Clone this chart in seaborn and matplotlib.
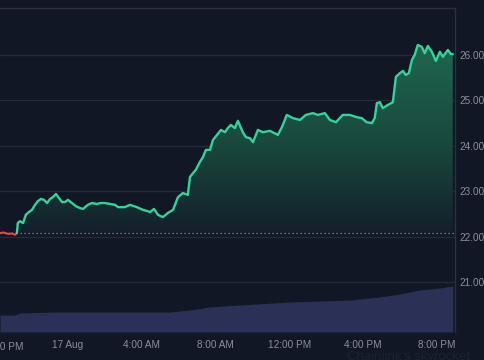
import matplotlib.pyplot as plt
import matplotlib.dates as mdates
import numpy as np
import pandas as pd
import seaborn as sns
from matplotlib.colors import LinearSegmentedColormap

# price trace, minutes after 16 Aug 20:00
start = pd.Timestamp("2024-08-16 20:00")
price_minutes = [19, 32, 45, 58, 68, 74, 77, 84, 94, 103, 113, 123, 133, 142, 152, 162, 172, 182,
                 191, 201, 211, 221, 230, 240, 253, 266, 279, 289, 305, 318, 334, 347, 360, 377,
                 393, 403, 425, 442, 464, 484, 500, 507, 520, 533, 549, 565, 582, 598, 614, 630,
                 637, 647, 656, 669, 679, 689, 702, 712, 725, 738, 751, 760, 770, 783, 793, 809,
                 819, 832, 842, 858, 874, 897, 923, 936, 952, 972, 995, 1014, 1037, 1053, 1076,
                 1092, 1112, 1134, 1157, 1180, 1196, 1212, 1229, 1238, 1245, 1255, 1264, 1281,
                 1297, 1307, 1320, 1330, 1339, 1349, 1359, 1368, 1378, 1391, 1401, 1411, 1424,
                 1437, 1450, 1460, 1476, 1486, 1492]
prices = [22.08, 22.09, 22.06, 22.07, 22.04, 22.08, 22.30, 22.34, 22.30, 22.48, 22.54, 22.59,
          22.70, 22.78, 22.83, 22.81, 22.74, 22.83, 22.87, 22.94, 22.85, 22.76, 22.76, 22.81,
          22.74, 22.67, 22.63, 22.61, 22.70, 22.74, 22.72, 22.74, 22.74, 22.72, 22.70, 22.65,
          22.65, 22.70, 22.65, 22.59, 22.56, 22.54, 22.61, 22.48, 22.43, 22.52, 22.59, 22.87,
          22.96, 22.92, 23.31, 23.40, 23.47, 23.64, 23.75, 23.91, 23.91, 24.13, 24.24, 24.35,
          24.30, 24.39, 24.46, 24.39, 24.55, 24.30, 24.19, 24.17, 24.08, 24.35, 24.30, 24.33,
          24.24, 24.41, 24.68, 24.61, 24.57, 24.68, 24.72, 24.68, 24.72, 24.57, 24.52, 24.68,
          24.68, 24.63, 24.61, 24.52, 24.50, 24.61, 24.94, 24.96, 24.83, 24.90, 24.96, 25.52,
          25.60, 25.65, 25.56, 25.60, 25.89, 26.00, 26.22, 26.18, 26.04, 26.20, 26.07, 25.87,
          26.07, 25.96, 26.11, 26.02, 26.02]
baseline = 22.09

volume_minutes = [19, 68, 84, 198, 572, 637, 702, 799, 962, 1157, 1255, 1320, 1385, 1450, 1492]
volume_m = [1.7, 1.7, 1.9, 2.0, 2.0, 2.2, 2.5, 2.7, 3.0, 3.2, 3.5, 3.8, 4.2, 4.4, 4.6]

first_label_time = "2024-08-16 20:35"
tick_times = ["2024-08-17 00:00", "2024-08-17 04:00", "2024-08-17 08:00",
              "2024-08-17 12:00", "2024-08-17 16:00", "2024-08-17 20:00"]
tick_labels = ["17 Aug", "4:00 AM", "8:00 AM", "12:00 PM", "4:00 PM", "8:00 PM"]

BG = "#111724"
GRID = "#252a37"
TXT = "#8b909a"
GREEN = "#34d399"
RED = "#ef4444"
FS = 7.2

sns.set_style("dark")
plt.rcParams["font.family"] = ["Liberation Sans", "DejaVu Sans"]

df = pd.DataFrame({"time": start + pd.to_timedelta(price_minutes, unit="min"), "price": prices})
vol = pd.DataFrame({"time": start + pd.to_timedelta(volume_minutes, unit="min"), "volume": volume_m})
cross = 5

fig = plt.figure(figsize=(4.85, 3.6), dpi=100, facecolor=BG)
ax2 = fig.add_axes([0, 0.0778, 0.938, 0.9])
ax = fig.add_axes([0, 0.0778, 0.938, 0.9], sharex=ax2)
ax.patch.set_visible(False)
ax2.set_facecolor(BG)

# volume area
ax2.fill_between(vol["time"], vol["volume"], 0, color="#2b3057", lw=0)
ax2.set_ylim(0, 32.4)
ax2.set_yticks([])
ax2.tick_params(axis="x", labelbottom=False, length=0)
ax2.grid(False)
for s in ax2.spines.values():
    s.set_visible(False)

xmin = start + pd.Timedelta(minutes=19)
xmax = start + pd.Timedelta(minutes=1499)
ymin, ymax = 19.90, 27.035

# gradient fill above baseline
green = df.iloc[cross:]
poly = ax.fill_between(green["time"], green["price"], baseline, color="none", lw=0)
cmap = LinearSegmentedColormap.from_list("g", ["#131f2b", "#1a4a3e", "#1f6650"])
grad = np.linspace(0, 1, 256).reshape(-1, 1)
img = ax.imshow(grad, cmap=cmap, aspect="auto", origin="lower",
                extent=[mdates.date2num(green["time"].iloc[0]), mdates.date2num(green["time"].iloc[-1]),
                        baseline, green["price"].max()], zorder=1)
img.set_clip_path(poly.get_paths()[0], transform=ax.transData)

ax.axhline(baseline, color="#9097a3", lw=0.9, ls=(0, (1, 2.2)), zorder=2)
sns.lineplot(data=df.iloc[:cross + 1], x="time", y="price", color=RED, lw=1.5, ax=ax, zorder=3)
sns.lineplot(data=green, x="time", y="price", color=GREEN, lw=1.7, ax=ax, zorder=3)

ax.set_xlim(xmin, xmax)
ax.set_ylim(ymin, ymax)
ax.set_yticks([21, 22, 23, 24, 25, 26])
ax.set_yticklabels([f"{v:.2f}" for v in [21, 22, 23, 24, 25, 26]])
ax.yaxis.tick_right()
ax.tick_params(axis="y", length=0, pad=3, labelsize=FS, labelcolor=TXT)
ax.set_xticks(pd.to_datetime(tick_times))
ax.set_xticklabels(tick_labels)
ax.tick_params(axis="x", length=0, pad=6, labelsize=FS, labelcolor=TXT)
ax.grid(axis="y", color=GRID, lw=1)
ax.grid(axis="x", visible=False)
ax.set_xlabel("")
ax.set_ylabel("")
for name, s in ax.spines.items():
    s.set_visible(name in ("top", "right"))
    s.set_color("#2b303c")
    s.set_linewidth(1)

# first time label, mostly off the left edge
ax.text(pd.Timestamp(first_label_time), -0.045, "8:00 PM", transform=ax.get_xaxis_transform(),
        ha="center", va="center", fontsize=FS, color=TXT, clip_on=False)
fig.text(0.715, 0.025, "Chainlink's skyrocket", fontsize=9.5, color="#1d2230", va="top", ha="left")

fig.savefig("out.png", dpi=100, facecolor=BG)
